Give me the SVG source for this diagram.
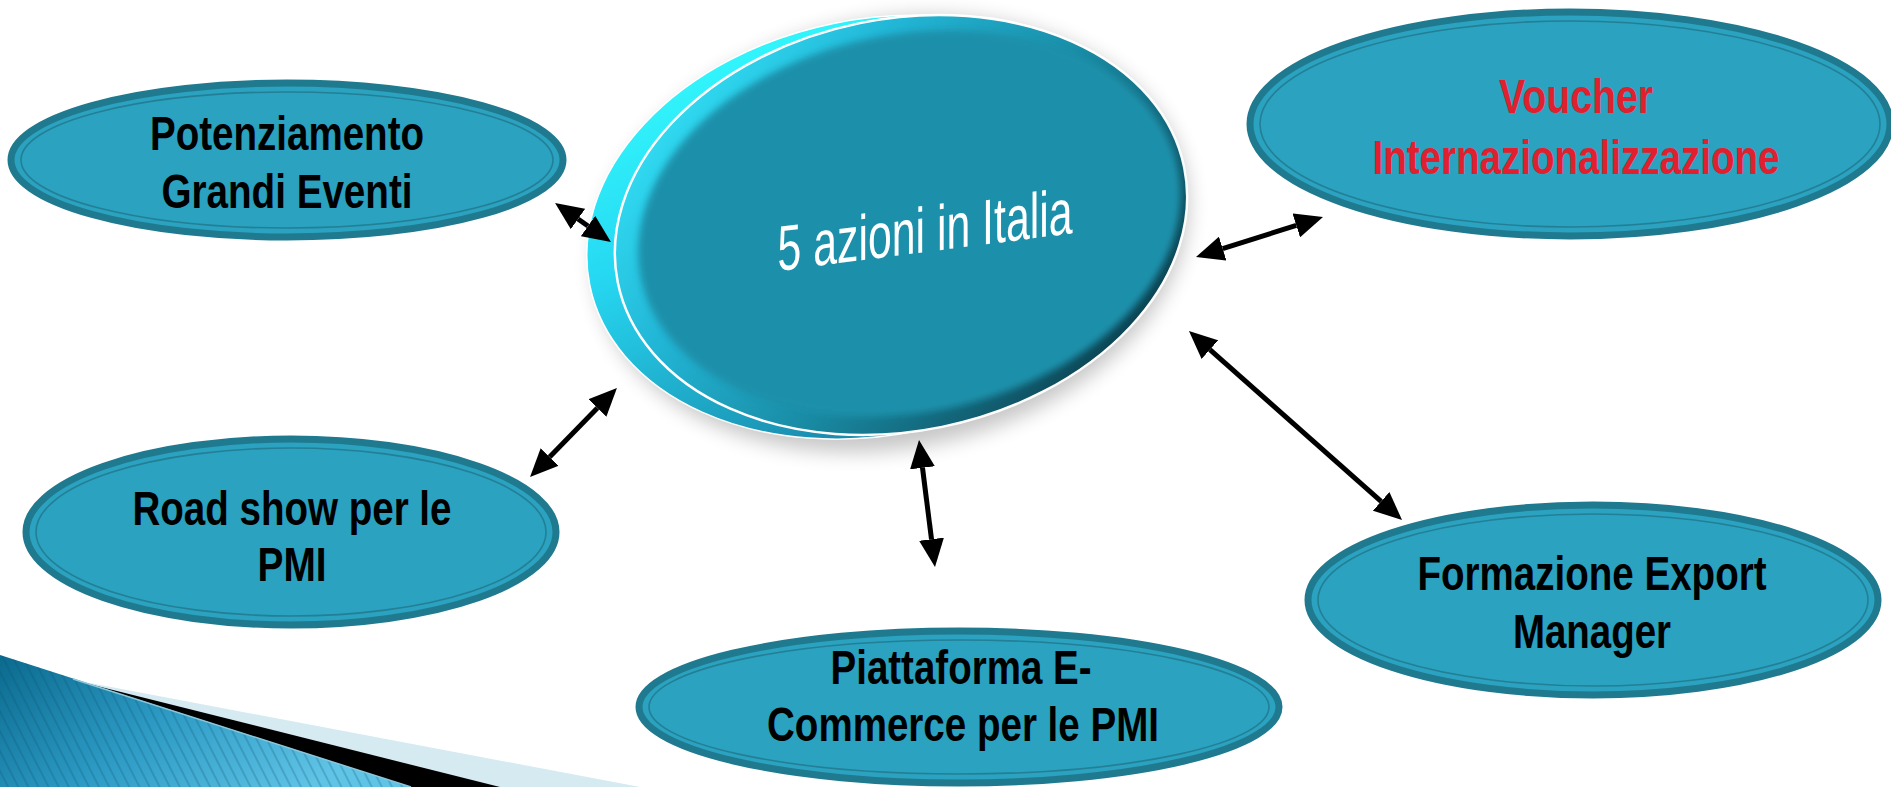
<svg xmlns="http://www.w3.org/2000/svg" width="1891" height="787" viewBox="0 0 1891 787">
<defs>
<style>
.nf{fill:#2ba2bf;stroke:#1f7a8f;stroke-width:7}
.ni{fill:none;stroke:#237f96;stroke-width:1.6}
.lbl{font-family:"Liberation Sans",Arial,sans-serif;font-weight:bold;font-size:48px;text-anchor:middle;fill:#000}
.red{fill:#e0202e}
.conn{stroke:#000;stroke-width:5;fill:none;marker-start:url(#ah);marker-end:url(#ah)}
</style>
<marker id="ah" markerUnits="userSpaceOnUse" markerWidth="28" markerHeight="25" refX="0" refY="12.5" orient="auto-start-reverse">
<path d="M0,0 L28,12.5 L0,25 Z" fill="#000"/>
</marker>
<linearGradient id="backGrad" x1="0" y1="0" x2="0.3" y2="1">
<stop offset="0" stop-color="#36ffff"/>
<stop offset="0.45" stop-color="#26d8f2"/>
<stop offset="1" stop-color="#1a8cae"/>
</linearGradient>
<linearGradient id="bodyGrad" x1="0" y1="0.1" x2="1" y2="0.9">
<stop offset="0" stop-color="#38ecff"/>
<stop offset="0.3" stop-color="#22b6d6"/>
<stop offset="0.55" stop-color="#1a8ea8"/>
<stop offset="0.8" stop-color="#115a6c"/>
<stop offset="1" stop-color="#062a35"/>
</linearGradient>
<linearGradient id="swooshGrad" x1="0" y1="0" x2="1" y2="0.4">
<stop offset="0" stop-color="#0b6a8e"/>
<stop offset="0.5" stop-color="#2c9ac4"/>
<stop offset="1" stop-color="#60c4e6"/>
</linearGradient>
<pattern id="stripes" width="9" height="9" patternUnits="userSpaceOnUse" patternTransform="rotate(-27)">
<line x1="1" y1="0" x2="1" y2="9" stroke="#0a4f6c" stroke-opacity="0.3" stroke-width="1.5"/>
</pattern>
<filter id="blur10" x="-20%" y="-20%" width="140%" height="140%"><feGaussianBlur stdDeviation="10"/></filter>
<filter id="blur4" x="-10%" y="-10%" width="120%" height="120%"><feGaussianBlur stdDeviation="3.5"/></filter>
</defs>
<rect width="1891" height="787" fill="#fff"/>

<g id="swoosh">
<polygon points="90,683 640,787 73,787" fill="#d6eaf2"/>
<polygon points="73,680 500,787 73,787" fill="#000"/>
<polygon points="0,655 411,787 0,787" fill="url(#swooshGrad)"/>
<polygon points="0,655 411,787 0,787" fill="url(#stripes)"/>
<line x1="73" y1="679" x2="411" y2="787" stroke="#8cc6da" stroke-width="1.5"/>
</g>

<g id="center">
<g transform="rotate(-11.5 901 225)">
<ellipse cx="890" cy="232" rx="300" ry="214" fill="#000" opacity="0.22" filter="url(#blur10)"/>
<ellipse cx="875" cy="222" rx="291" ry="208" fill="url(#backGrad)" stroke="#fff" stroke-width="1.5"/>
<ellipse cx="901" cy="225" rx="289" ry="206" fill="url(#bodyGrad)" stroke="#fff" stroke-width="2.5"/>
<ellipse cx="909.5" cy="225" rx="274" ry="189" fill="#1b90aa" filter="url(#blur4)"/>
</g>
<text transform="translate(925,252) skewY(-7.3)" x="0" y="0" text-anchor="middle" textLength="295" lengthAdjust="spacingAndGlyphs" font-family="'Liberation Sans',Arial,sans-serif" font-size="64" fill="#fff">5 azioni in Italia</text>
</g>

<g id="n-potenziamento">
<ellipse class="nf" cx="287" cy="160" rx="276" ry="77"/>
<ellipse class="ni" cx="287" cy="160" rx="266" ry="68"/>
<text class="lbl" x="287" y="150" textLength="274" lengthAdjust="spacingAndGlyphs">Potenziamento</text>
<text class="lbl" x="287" y="208" textLength="251" lengthAdjust="spacingAndGlyphs">Grandi Eventi</text>
</g>

<g id="n-voucher">
<ellipse class="nf" cx="1570" cy="124" rx="320" ry="112"/>
<ellipse class="ni" cx="1570" cy="124" rx="310" ry="103"/>
<text class="lbl red" x="1576" y="113" textLength="154" lengthAdjust="spacingAndGlyphs">Voucher</text>
<text class="lbl red" x="1576" y="174" textLength="407" lengthAdjust="spacingAndGlyphs">Internazionalizzazione</text>
</g>

<g id="n-roadshow">
<ellipse class="nf" cx="291" cy="532" rx="265" ry="93"/>
<ellipse class="ni" cx="291" cy="532" rx="255" ry="84"/>
<text class="lbl" x="292" y="525" textLength="319" lengthAdjust="spacingAndGlyphs">Road show per le</text>
<text class="lbl" x="292" y="581" textLength="69" lengthAdjust="spacingAndGlyphs">PMI</text>
</g>

<g id="n-piattaforma">
<ellipse class="nf" cx="959" cy="707" rx="320" ry="76"/>
<ellipse class="ni" cx="959" cy="707" rx="310" ry="67"/>
<text class="lbl" x="961" y="684" textLength="261" lengthAdjust="spacingAndGlyphs">Piattaforma E-</text>
<text class="lbl" x="963" y="741" textLength="392" lengthAdjust="spacingAndGlyphs">Commerce per le PMI</text>
</g>

<g id="n-formazione">
<ellipse class="nf" cx="1593" cy="600" rx="285" ry="95"/>
<ellipse class="ni" cx="1593" cy="600" rx="275" ry="86"/>
<text class="lbl" x="1592" y="590" textLength="349" lengthAdjust="spacingAndGlyphs">Formazione Export</text>
<text class="lbl" x="1592" y="648" textLength="158" lengthAdjust="spacingAndGlyphs">Manager</text>
</g>

<g id="connectors">
<line class="conn" x1="578" y1="219" x2="588" y2="226"/>
<line class="conn" x1="549.6" y1="457" x2="597.4" y2="408"/>
<line class="conn" x1="1222.7" y1="248.6" x2="1296.3" y2="225.4"/>
<line class="conn" x1="1209.9" y1="349.6" x2="1381.1" y2="501.4"/>
<line class="conn" x1="922.5" y1="467.8" x2="931.5" y2="539.2"/>
</g>
</svg>
